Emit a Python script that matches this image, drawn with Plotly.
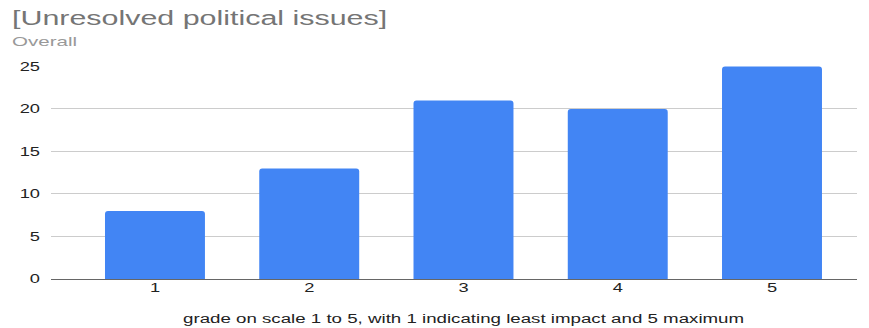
import plotly.graph_objects as go

categories = ["1", "2", "3", "4", "5"]
values = [8, 13, 21, 20, 25]
y_ticks = [0, 5, 10, 15, 20, 25]

title_text = "[Unresolved political issues]"
subtitle_text = "Overall"
x_title_text = "grade on scale 1 to 5, with 1 indicating least impact and 5 maximum"

fig = go.Figure(go.Bar(
    x=list(range(len(categories))), y=values,
    marker=dict(color="#4285F4", line=dict(width=0), cornerradius=3),
    width=0.648,
))

L, R, T, B = 51, 12, 66, 49
plot_w = 869 - L - R
plot_h = 328 - T - B


def px_x(p):
    return (p - L) / plot_w


def px_y(p):
    return 1 + (T - p) / plot_h


fig.update_layout(
    width=869, height=328,
    margin=dict(l=L, r=R, t=T, b=B, autoexpand=False),
    plot_bgcolor="white", paper_bgcolor="white",
    font=dict(family="Liberation Sans, Arial, sans-serif", color="#222222", size=12),
    showlegend=False,
    xaxis=dict(
        range=[-0.674, 4.551],
        tickmode="array", tickvals=list(range(len(categories))), ticktext=categories,
        showgrid=False, zeroline=False, showline=False, ticks="",
        tickfont=dict(size=12, color="#222222"),
        automargin=False,
        fixedrange=True,
    ),
    yaxis=dict(
        range=[0, 25.05],
        tickmode="array", tickvals=y_ticks,
        showgrid=True, gridcolor="#cccccc", gridwidth=1,
        zeroline=True, zerolinecolor="#666666", zerolinewidth=1,
        showline=False, ticks="", ticklabelstandoff=10,
        tickfont=dict(size=12, color="#222222"),
        automargin=False,
        fixedrange=True,
    ),
    annotations=[
        dict(text=title_text, x=px_x(10), y=px_y(18),
             xref="paper", yref="paper", showarrow=False, xanchor="left", yanchor="middle",
             align="left", font=dict(size=20, color="#757575")),
        dict(text=subtitle_text, x=px_x(10), y=px_y(41),
             xref="paper", yref="paper", showarrow=False, xanchor="left", yanchor="middle",
             align="left", font=dict(size=13.5, color="#999999")),
        dict(text=x_title_text, x=px_x(463), y=px_y(319),
             xref="paper", yref="paper", showarrow=False, xanchor="center", yanchor="middle",
             align="center", font=dict(size=12.3, color="#222222")),
    ],
)

# The reference renders its text horizontally stretched; mimic it with SVG textLength.
post = """
var gd = document.getElementById('{plot_id}');
gd.querySelectorAll('svg text').forEach(function(t){
  var n = t.getComputedTextLength();
  if (n > 0) {
    t.setAttribute('textLength', (n * 1.52).toFixed(2));
    t.setAttribute('lengthAdjust', 'spacingAndGlyphs');
  }
});
"""

fig.write_html("out.html", post_script=post)
